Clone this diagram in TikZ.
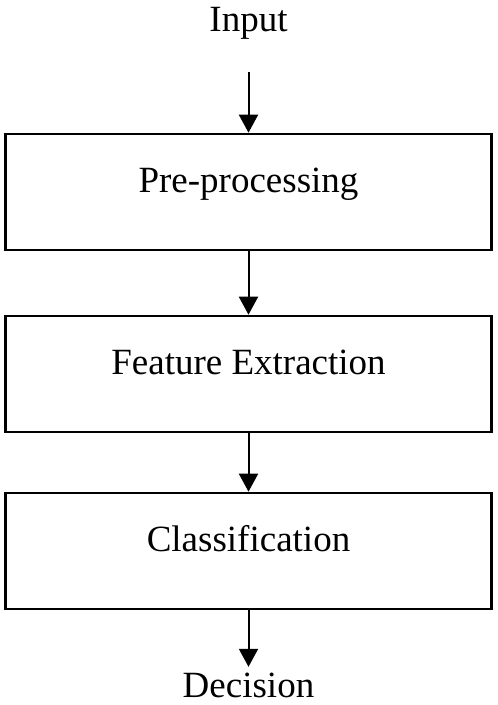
\documentclass[tikz,border=0pt]{standalone}
\usepackage{fontspec}
\setmainfont{Liberation Serif}
\usetikzlibrary{positioning, arrows.meta}

\tikzset{
  stage/.style={draw, line width=2.6bp, minimum width=486bp, minimum height=116bp, inner sep=0pt},
  word/.style={inner sep=0pt},
  flow/.style={line width=2bp, -{Triangle[width=19bp,length=18bp]}}
}

\begin{document}
\begin{tikzpicture}[x=1bp, y=-1bp, node distance=180bp, on grid,
    every node/.style={font=\fontsize{37bp}{44bp}\selectfont, text height=13bp, text depth=13bp}]
  \useasboundingbox (0,0) rectangle (498,705);
  \node [stage] (pre) at (248.5,192) {Pre-processing};
  \node [stage] [below=182bp of pre] (feat) {Feature Extraction};
  \node [stage] [below=177bp of feat] (cls) {Classification};
  \node [word] [above=160bp of pre] (in) {Input};
  \node [word] [below=146bp of cls] (dec) {Decision};
  \draw[flow, shorten <=27bp] (in) -- (pre);
  \draw[flow] (pre) -- (feat);
  \draw[flow] (feat) -- (cls);
  \draw[flow, shorten >=17bp] (cls) -- (dec);
\end{tikzpicture}
\end{document}
